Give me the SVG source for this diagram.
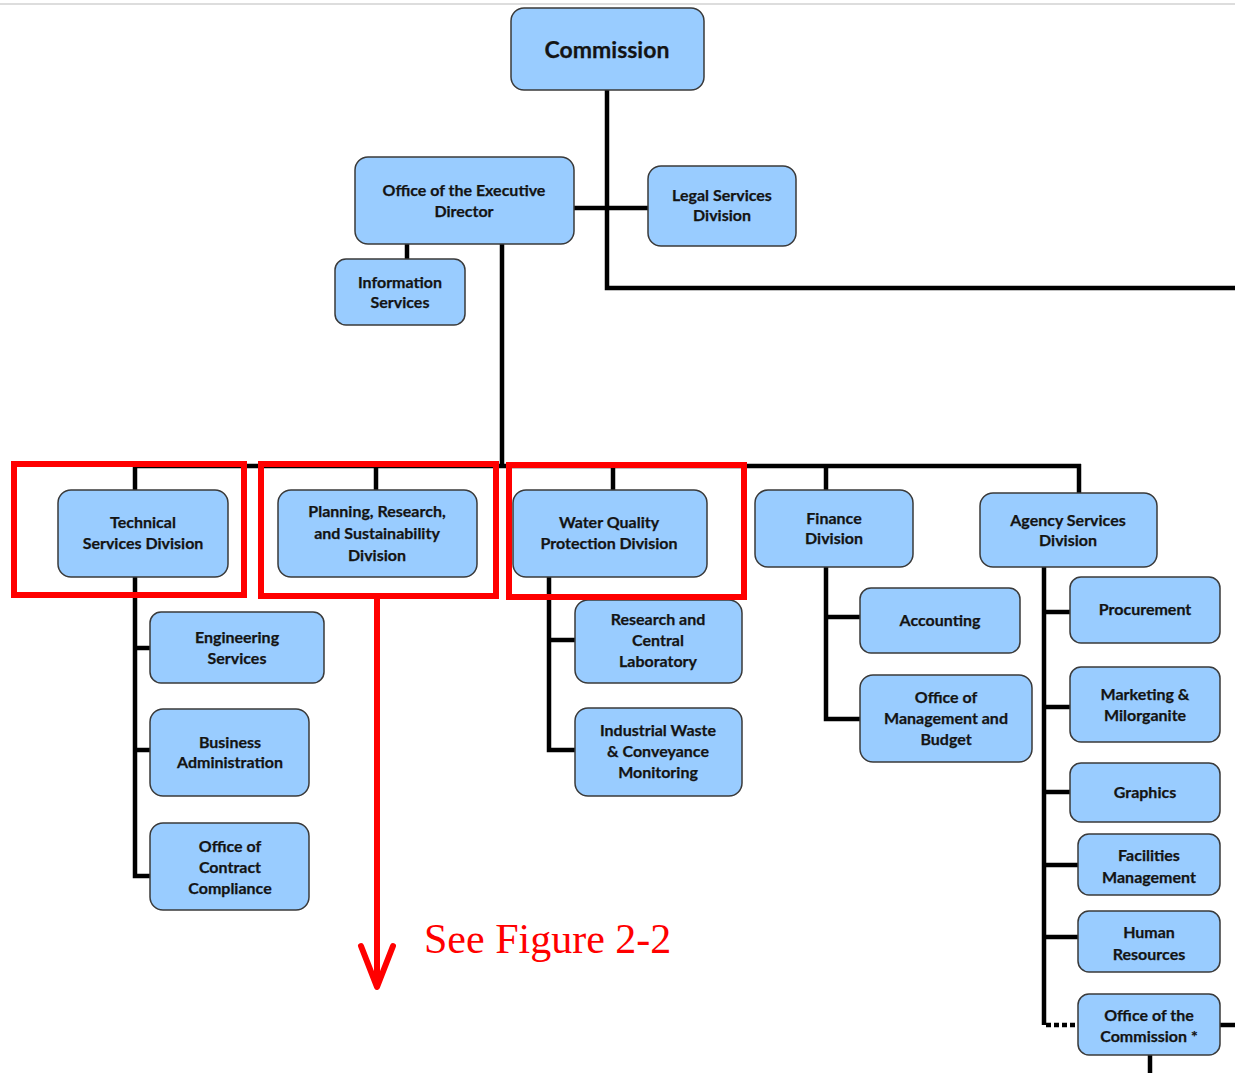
<svg xmlns="http://www.w3.org/2000/svg" width="1235" height="1073" viewBox="0 0 1235 1073">
<defs>
<style>
.box{fill:#99ccff;stroke:#3a3a3a;stroke-width:1.5}
.t{font-family:Lato,"Open Sans","Liberation Sans",sans-serif;font-weight:bold;font-size:16px;fill:#141414;text-anchor:middle;stroke:#141414;stroke-width:0.25}
.big{font-size:23px}
.ln{stroke:#000;stroke-width:4.5;fill:none;stroke-linejoin:miter}
.red{stroke:#ff0000;stroke-width:6;fill:none}
</style>
</defs>
<rect width="1235" height="1073" fill="#fff"/>
<line x1="0" y1="4" x2="1235" y2="4" stroke="#dddddd" stroke-width="2"/>
<g id="connectors">
<polyline class="ln" points="607,90 607,288 1235,288"/>
<line class="ln" x1="574" y1="208" x2="648" y2="208"/>
<line class="ln" x1="407" y1="244" x2="407" y2="259"/>
<line class="ln" x1="502" y1="244" x2="502" y2="466"/>
<line class="ln" x1="133" y1="466" x2="1081" y2="466"/>
<line class="ln" x1="135" y1="466" x2="135" y2="490"/>
<line class="ln" x1="376" y1="466" x2="376" y2="490"/>
<line class="ln" x1="613" y1="466" x2="613" y2="490"/>
<line class="ln" x1="826" y1="466" x2="826" y2="490"/>
<line class="ln" x1="1079" y1="464" x2="1079" y2="493"/>
<polyline class="ln" points="150,876 135,876 135,577"/>
<line class="ln" x1="135" y1="648" x2="150" y2="648"/>
<line class="ln" x1="135" y1="750" x2="150" y2="750"/>
<polyline class="ln" points="575,750 549,750 549,577"/>
<line class="ln" x1="549" y1="640" x2="575" y2="640"/>
<polyline class="ln" points="860,719 826,719 826,567"/>
<line class="ln" x1="826" y1="617" x2="860" y2="617"/>
<polyline class="ln" points="1044,567 1044,1025"/>
<line class="ln" x1="1044" y1="612" x2="1070" y2="612"/>
<line class="ln" x1="1044" y1="707" x2="1070" y2="707"/>
<line class="ln" x1="1044" y1="792" x2="1070" y2="792"/>
<line class="ln" x1="1044" y1="865" x2="1078" y2="865"/>
<line class="ln" x1="1044" y1="937" x2="1078" y2="937"/>
<line class="ln" x1="1046" y1="1025" x2="1078" y2="1025" stroke-dasharray="5,3"/>
<line class="ln" x1="1220" y1="1025" x2="1235" y2="1025"/>
<line class="ln" x1="1150" y1="1055" x2="1150" y2="1073"/>
</g>
<g id="commission"><rect class="box" x="511" y="8" width="193" height="82" rx="13"/><text class="t big" x="607" y="58">Commission</text></g>
<g id="exec-director"><rect class="box" x="355" y="157" width="219" height="87" rx="13"/><text class="t" x="464" y="196">Office of the Executive</text><text class="t" x="464" y="217">Director</text></g>
<g id="legal"><rect class="box" x="648" y="166" width="148" height="80" rx="13"/><text class="t" x="722" y="201">Legal Services</text><text class="t" x="722" y="221">Division</text></g>
<g id="info"><rect class="box" x="335" y="259" width="130" height="66" rx="11"/><text class="t" x="400" y="288">Information</text><text class="t" x="400" y="308">Services</text></g>
<g id="technical"><rect class="box" x="58" y="490" width="170" height="87" rx="13"/><text class="t" x="143" y="528">Technical</text><text class="t" x="143" y="549">Services Division</text></g>
<g id="planning"><rect class="box" x="278" y="490" width="199" height="87" rx="13"/><text class="t" x="377" y="517">Planning, Research,</text><text class="t" x="377" y="539">and Sustainability</text><text class="t" x="377" y="561">Division</text></g>
<g id="water"><rect class="box" x="513" y="490" width="194" height="87" rx="13"/><text class="t" x="609" y="528">Water Quality</text><text class="t" x="609" y="549">Protection Division</text></g>
<g id="finance"><rect class="box" x="755" y="490" width="158" height="77" rx="13"/><text class="t" x="834" y="524">Finance</text><text class="t" x="834" y="544">Division</text></g>
<g id="agency"><rect class="box" x="980" y="493" width="177" height="74" rx="13"/><text class="t" x="1068" y="526">Agency Services</text><text class="t" x="1068" y="546">Division</text></g>
<g id="engineering"><rect class="box" x="150" y="612" width="174" height="71" rx="11"/><text class="t" x="237" y="643">Engineering</text><text class="t" x="237" y="664">Services</text></g>
<g id="business"><rect class="box" x="150" y="709" width="159" height="87" rx="13"/><text class="t" x="230" y="748">Business</text><text class="t" x="230" y="768">Administration</text></g>
<g id="contract"><rect class="box" x="150" y="823" width="159" height="87" rx="13"/><text class="t" x="230" y="852">Office of</text><text class="t" x="230" y="873">Contract</text><text class="t" x="230" y="894">Compliance</text></g>
<g id="research"><rect class="box" x="575" y="600" width="167" height="83" rx="13"/><text class="t" x="658" y="625">Research and</text><text class="t" x="658" y="646">Central</text><text class="t" x="658" y="667">Laboratory</text></g>
<g id="industrial"><rect class="box" x="575" y="708" width="167" height="88" rx="13"/><text class="t" x="658" y="736">Industrial Waste</text><text class="t" x="658" y="757">&amp; Conveyance</text><text class="t" x="658" y="778">Monitoring</text></g>
<g id="accounting"><rect class="box" x="860" y="588" width="160" height="65" rx="11"/><text class="t" x="940" y="626">Accounting</text></g>
<g id="omb"><rect class="box" x="860" y="675" width="172" height="87" rx="13"/><text class="t" x="946" y="703">Office of</text><text class="t" x="946" y="724">Management and</text><text class="t" x="946" y="745">Budget</text></g>
<g id="procurement"><rect class="box" x="1070" y="577" width="150" height="66" rx="11"/><text class="t" x="1145" y="615">Procurement</text></g>
<g id="marketing"><rect class="box" x="1070" y="667" width="150" height="75" rx="11"/><text class="t" x="1145" y="700">Marketing &amp;</text><text class="t" x="1145" y="721">Milorganite</text></g>
<g id="graphics"><rect class="box" x="1070" y="763" width="150" height="59" rx="11"/><text class="t" x="1145" y="798">Graphics</text></g>
<g id="facilities"><rect class="box" x="1078" y="834" width="142" height="61" rx="11"/><text class="t" x="1149" y="861">Facilities</text><text class="t" x="1149" y="883">Management</text></g>
<g id="hr"><rect class="box" x="1078" y="911" width="142" height="61" rx="11"/><text class="t" x="1149" y="938">Human</text><text class="t" x="1149" y="960">Resources</text></g>
<g id="office-commission"><rect class="box" x="1078" y="994" width="142" height="61" rx="11"/><text class="t" x="1149" y="1021">Office of the</text><text class="t" x="1149" y="1042">Commission *</text></g>
<g id="highlights">
<rect class="red" x="14" y="464" width="230" height="131"/>
<rect class="red" x="261" y="464" width="235" height="132"/>
<rect class="red" x="509" y="465" width="235" height="132"/>
<line class="red" x1="377" y1="599" x2="377" y2="986"/>
<polyline class="red" points="361,946 377,987 393,946" stroke-linecap="round" stroke-linejoin="round"/>
<text x="424" y="953" font-family="'Liberation Serif','Times New Roman',serif" font-size="42" fill="#ff0000">See Figure 2-2</text>
</g>
</svg>
